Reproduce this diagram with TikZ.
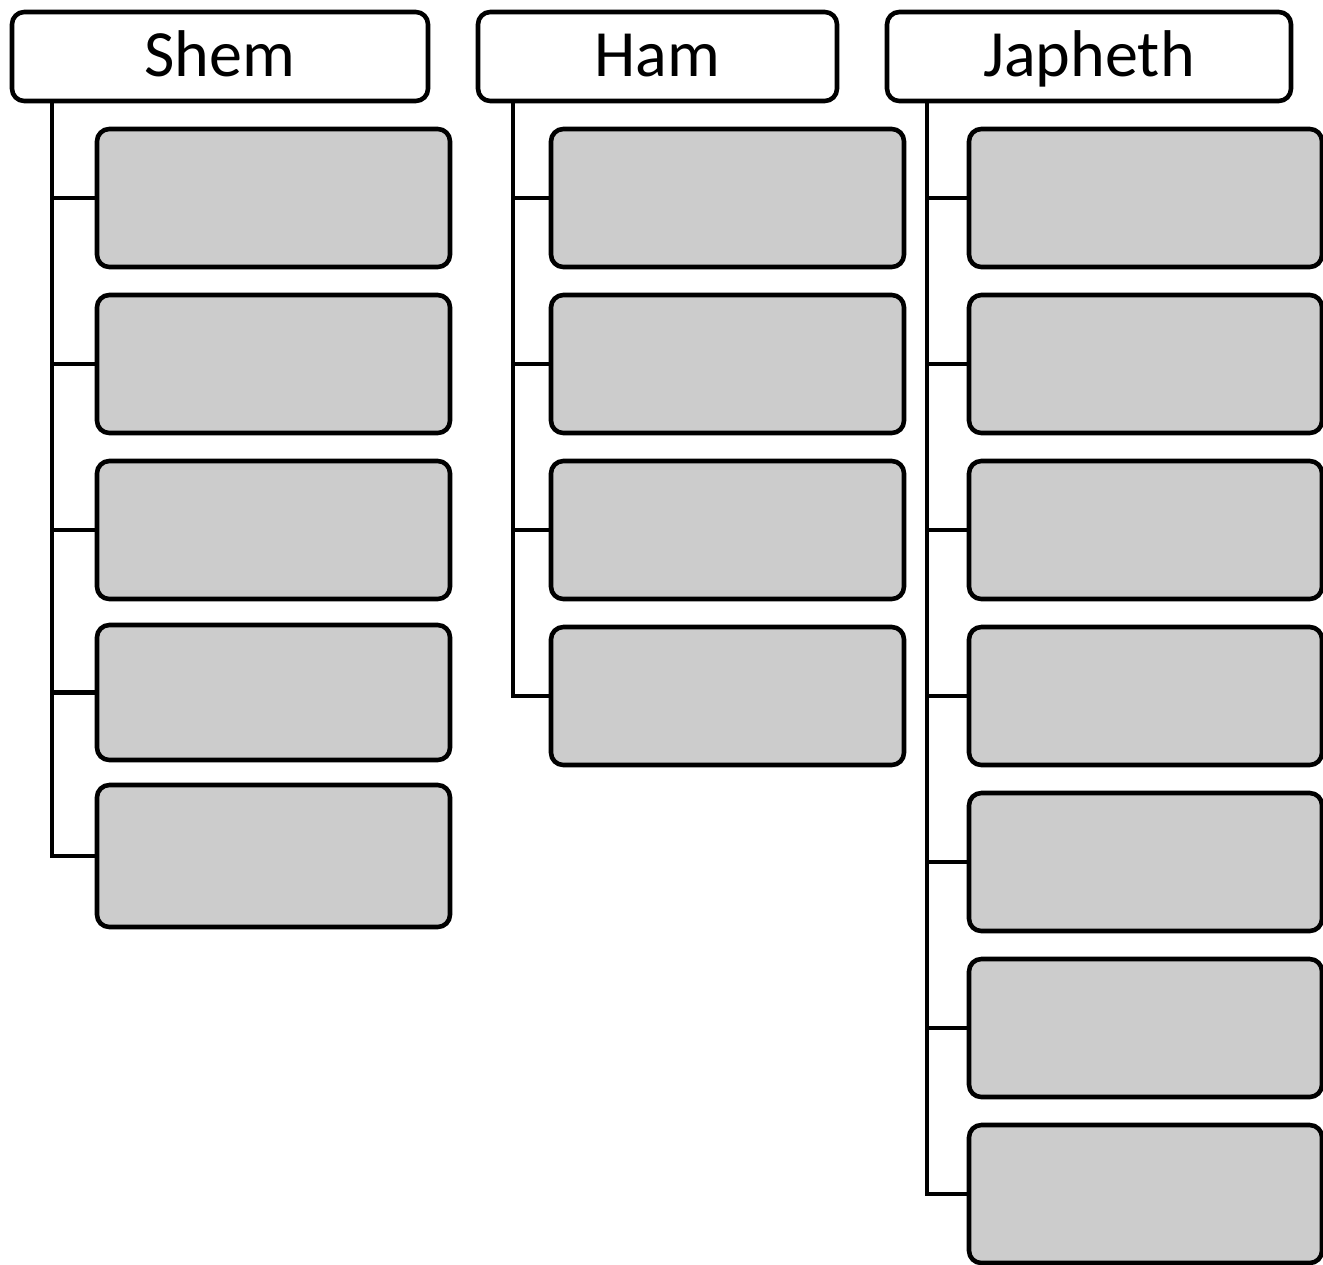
\documentclass[tikz,border=0pt]{standalone}
\usepackage{fontspec}
\setmainfont{Carlito}
\usetikzlibrary{positioning}

\begin{document}
\begin{tikzpicture}[
  node distance=0.28cm,
  son/.style={rectangle, rounded corners=3.5pt, draw=black, fill=white,
              line width=1.3pt, minimum height=0.89cm, inner sep=0pt,
              outer sep=0pt, text height=0.48cm, text depth=0.09cm,
              font=\fontsize{18.8}{22}\selectfont},
  clan/.style={rectangle, rounded corners=3.5pt, draw=black, fill=black!20,
               line width=1.3pt, minimum width=3.53cm, minimum height=1.38cm,
               inner sep=0pt, outer sep=0pt},
  link/.style={line width=1.3pt, black},
]
  \useasboundingbox (0,0) rectangle (13.23,-12.64);

  \node[son, minimum width=4.16cm] (shem) at (2.20,-0.565) {Shem};
  \node[son, minimum width=3.59cm] (ham) at (6.575,-0.565) {Ham};
  \node[son, minimum width=4.04cm] (japheth) at (10.89,-0.565) {Japheth};

  \node[clan, anchor=north west] (s1) at (0.97,-1.29) {};
  \node[clan, below=of s1] (s2) {};
  \node[clan, below=of s2] (s3) {};
  \node[clan, minimum height=1.35cm, below=0.26cm of s3] (s4) {};
  \node[clan, minimum height=1.42cm, below=0.25cm of s4] (s5) {};

  \node[clan, anchor=north west] (h1) at (5.51,-1.29) {};
  \node[clan, below=of h1] (h2) {};
  \node[clan, below=of h2] (h3) {};
  \node[clan, below=of h3] (h4) {};

  \node[clan, anchor=north west] (j1) at (9.69,-1.29) {};
  \node[clan, below=of j1] (j2) {};
  \node[clan, below=of j2] (j3) {};
  \node[clan, below=of j3] (j4) {};
  \node[clan, below=of j4] (j5) {};
  \node[clan, below=of j5] (j6) {};
  \node[clan, below=of j6] (j7) {};

  \coordinate (st) at ([xshift=0.40cm]shem.south west);
  \coordinate (ht) at ([xshift=0.35cm]ham.south west);
  \coordinate (jt) at ([xshift=0.40cm]japheth.south west);

  \draw[link] (st) |- (s1.west);
  \draw[link] (st) |- (s2.west);
  \draw[link] (st) |- (s3.west);
  \draw[link] (st) |- (s4.west);
  \draw[link] (st) |- (s5.west);

  \draw[link] (ht) |- (h1.west);
  \draw[link] (ht) |- (h2.west);
  \draw[link] (ht) |- (h3.west);
  \draw[link] (ht) |- (h4.west);

  \draw[link] (jt) |- (j1.west);
  \draw[link] (jt) |- (j2.west);
  \draw[link] (jt) |- (j3.west);
  \draw[link] (jt) |- (j4.west);
  \draw[link] (jt) |- (j5.west);
  \draw[link] (jt) |- (j6.west);
  \draw[link] (jt) |- (j7.west);
\end{tikzpicture}
\end{document}
